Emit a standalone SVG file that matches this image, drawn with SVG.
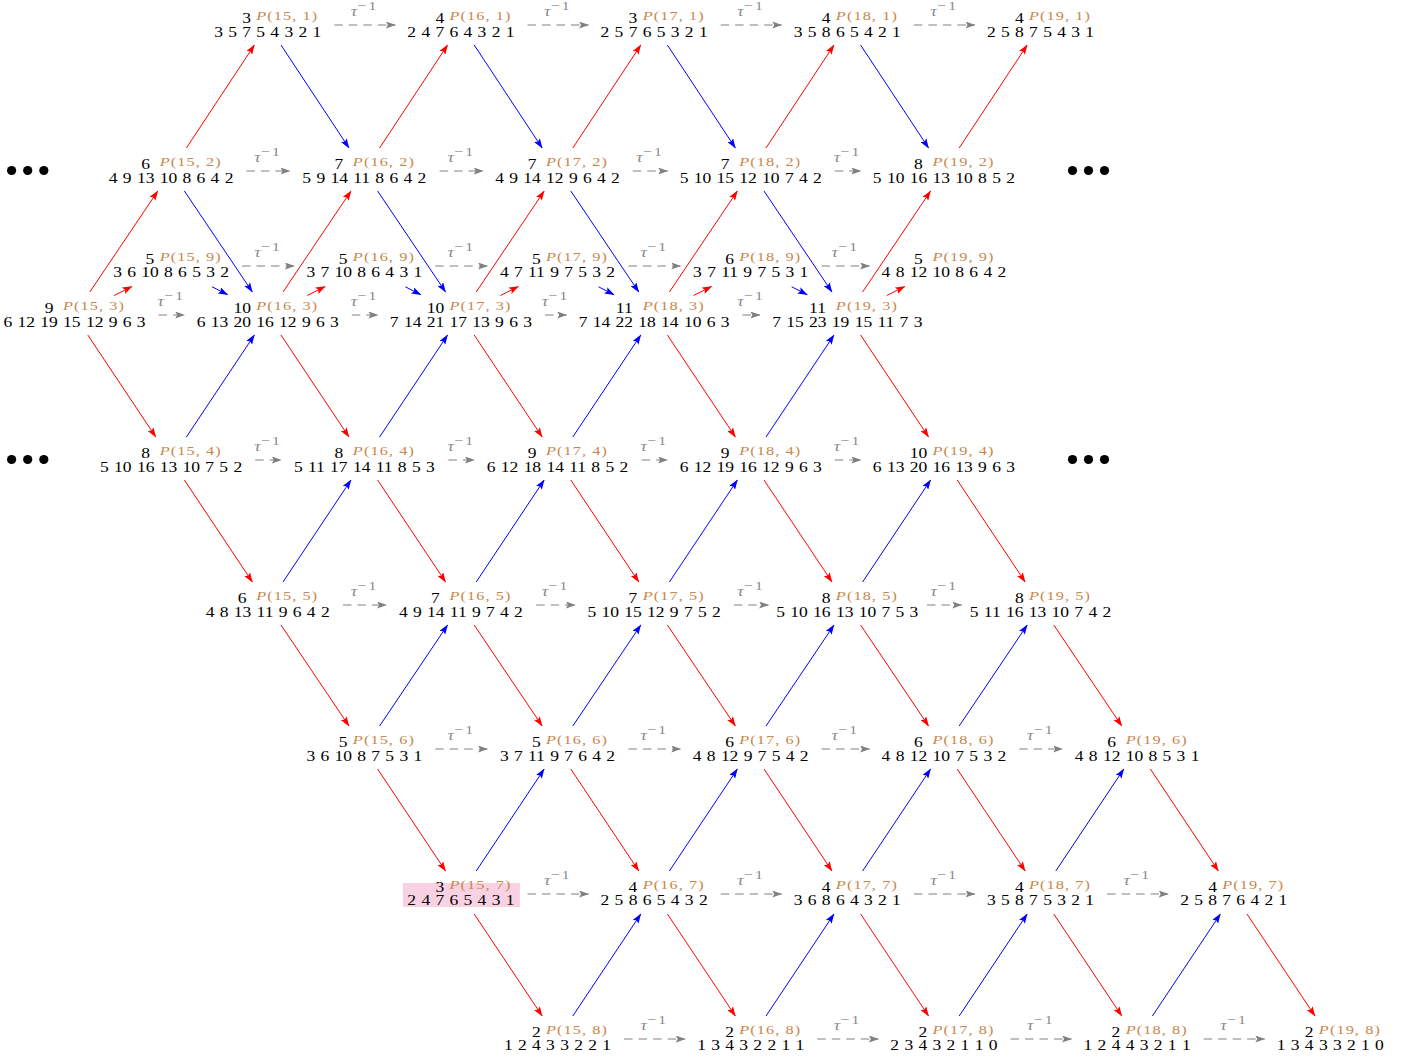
<svg xmlns="http://www.w3.org/2000/svg" width="1416" height="1061" viewBox="0 0 1416 1061">
<style>
text{font-family:"Liberation Serif","Times New Roman",serif}
.n{font-size:14.5px;text-anchor:middle;word-spacing:0.77px;fill:#000}
.p{font-size:13.5px;letter-spacing:0.9px;fill:#c8874c}
.i{font-style:italic}
.tl{font-size:15px;text-anchor:middle;fill:#8a8a8a}
.sup{font-size:13px;letter-spacing:2px}
.r{stroke:#ff0000;stroke-width:1;fill:none;marker-end:url(#hr)}
.b{stroke:#0000ff;stroke-width:1;fill:none;marker-end:url(#hb)}
.g{stroke:#808080;stroke-width:1;fill:none;stroke-dasharray:8.5 6;marker-end:url(#hg)}
.dot{fill:#000}
</style>
<defs>
<marker id="hr" viewBox="0 0 10 7" refX="9.5" refY="3.5" markerWidth="10" markerHeight="7" markerUnits="userSpaceOnUse" orient="auto"><path d="M0,0L10,3.5L0,7L2,3.5z" fill="#ff0000"/></marker>
<marker id="hb" viewBox="0 0 10 7" refX="9.5" refY="3.5" markerWidth="10" markerHeight="7" markerUnits="userSpaceOnUse" orient="auto"><path d="M0,0L10,3.5L0,7L2,3.5z" fill="#0000ff"/></marker>
<marker id="hg" viewBox="0 0 10 7" refX="9.5" refY="3.5" markerWidth="10" markerHeight="7" markerUnits="userSpaceOnUse" orient="auto"><path d="M0,0L10,3.5L0,7L2,3.5z" fill="#808080"/></marker>
</defs>

<g id="dots">
<circle class="dot" cx="11.6" cy="170.5" r="4.6"/><circle class="dot" cx="27.7" cy="170.5" r="4.6"/><circle class="dot" cx="43.8" cy="170.5" r="4.6"/>
<circle class="dot" cx="1072.5" cy="170.5" r="4.6"/><circle class="dot" cx="1088.5" cy="170.5" r="4.6"/><circle class="dot" cx="1104.5" cy="170.5" r="4.6"/>
<circle class="dot" cx="11.6" cy="459.5" r="4.6"/><circle class="dot" cx="27.7" cy="459.5" r="4.6"/><circle class="dot" cx="43.8" cy="459.5" r="4.6"/>
<circle class="dot" cx="1072.5" cy="459.5" r="4.6"/><circle class="dot" cx="1088.5" cy="459.5" r="4.6"/><circle class="dot" cx="1104.5" cy="459.5" r="4.6"/>
</g>

<g id="connectors">
<line class="r" x1="186.4" y1="148" x2="254.4" y2="45"/>
<line class="r" x1="379.6" y1="148" x2="447.6" y2="45"/>
<line class="r" x1="572.8" y1="148" x2="640.8" y2="45"/>
<line class="r" x1="766.0" y1="148" x2="834.0" y2="45"/>
<line class="r" x1="959.2" y1="148" x2="1027.2" y2="45"/>
<line class="r" x1="89.8" y1="292" x2="157.8" y2="191"/>
<line class="r" x1="283.0" y1="292" x2="351.0" y2="191"/>
<line class="r" x1="476.2" y1="292" x2="544.2" y2="191"/>
<line class="r" x1="669.4" y1="292" x2="737.4" y2="191"/>
<line class="r" x1="862.6" y1="292" x2="930.6" y2="191"/>
<line class="r" x1="87.8" y1="335" x2="155.8" y2="437"/>
<line class="r" x1="281.0" y1="335" x2="349.0" y2="437"/>
<line class="r" x1="474.2" y1="335" x2="542.2" y2="437"/>
<line class="r" x1="667.4" y1="335" x2="735.4" y2="437"/>
<line class="r" x1="860.6" y1="335" x2="928.6" y2="437"/>
<line class="r" x1="184.4" y1="480" x2="252.4" y2="582"/>
<line class="r" x1="377.6" y1="480" x2="445.6" y2="582"/>
<line class="r" x1="570.8" y1="480" x2="638.8" y2="582"/>
<line class="r" x1="764.0" y1="480" x2="832.0" y2="582"/>
<line class="r" x1="957.2" y1="480" x2="1025.2" y2="582"/>
<line class="r" x1="281.0" y1="625" x2="349.0" y2="726"/>
<line class="r" x1="474.2" y1="625" x2="542.2" y2="726"/>
<line class="r" x1="667.4" y1="625" x2="735.4" y2="726"/>
<line class="r" x1="860.6" y1="625" x2="928.6" y2="726"/>
<line class="r" x1="1053.8" y1="625" x2="1121.8" y2="726"/>
<line class="r" x1="377.6" y1="769" x2="445.6" y2="871"/>
<line class="r" x1="570.8" y1="769" x2="638.8" y2="871"/>
<line class="r" x1="764.0" y1="769" x2="832.0" y2="871"/>
<line class="r" x1="957.2" y1="769" x2="1025.2" y2="871"/>
<line class="r" x1="1150.4" y1="769" x2="1218.4" y2="871"/>
<line class="r" x1="474.2" y1="914" x2="542.2" y2="1016"/>
<line class="r" x1="667.4" y1="914" x2="735.4" y2="1016"/>
<line class="r" x1="860.6" y1="914" x2="928.6" y2="1016"/>
<line class="r" x1="1053.8" y1="914" x2="1121.8" y2="1016"/>
<line class="r" x1="1247.0" y1="914" x2="1315.0" y2="1016"/>
<line class="r" x1="114.0" y1="295.5" x2="132.0" y2="286.5"/>
<line class="r" x1="307.2" y1="295.5" x2="325.2" y2="286.5"/>
<line class="r" x1="500.4" y1="295.5" x2="518.4" y2="286.5"/>
<line class="r" x1="693.6" y1="295.5" x2="711.6" y2="286.5"/>
<line class="r" x1="886.8" y1="295.5" x2="904.8" y2="286.5"/>

<line class="b" x1="281.0" y1="45" x2="349.0" y2="148"/>
<line class="b" x1="474.2" y1="45" x2="542.2" y2="148"/>
<line class="b" x1="667.4" y1="45" x2="735.4" y2="148"/>
<line class="b" x1="860.6" y1="45" x2="928.6" y2="148"/>
<line class="b" x1="184.4" y1="191" x2="252.4" y2="292"/>
<line class="b" x1="377.6" y1="191" x2="445.6" y2="292"/>
<line class="b" x1="570.8" y1="191" x2="638.8" y2="292"/>
<line class="b" x1="764.0" y1="191" x2="832.0" y2="292"/>
<line class="b" x1="186.4" y1="437" x2="254.4" y2="335"/>
<line class="b" x1="379.6" y1="437" x2="447.6" y2="335"/>
<line class="b" x1="572.8" y1="437" x2="640.8" y2="335"/>
<line class="b" x1="766.0" y1="437" x2="834.0" y2="335"/>
<line class="b" x1="283.0" y1="582" x2="351.0" y2="480"/>
<line class="b" x1="476.2" y1="582" x2="544.2" y2="480"/>
<line class="b" x1="669.4" y1="582" x2="737.4" y2="480"/>
<line class="b" x1="862.6" y1="582" x2="930.6" y2="480"/>
<line class="b" x1="379.6" y1="726" x2="447.6" y2="625"/>
<line class="b" x1="572.8" y1="726" x2="640.8" y2="625"/>
<line class="b" x1="766.0" y1="726" x2="834.0" y2="625"/>
<line class="b" x1="959.2" y1="726" x2="1027.2" y2="625"/>
<line class="b" x1="476.2" y1="871" x2="544.2" y2="769"/>
<line class="b" x1="669.4" y1="871" x2="737.4" y2="769"/>
<line class="b" x1="862.6" y1="871" x2="930.6" y2="769"/>
<line class="b" x1="1055.8" y1="871" x2="1123.8" y2="769"/>
<line class="b" x1="572.8" y1="1016" x2="640.8" y2="914"/>
<line class="b" x1="766.0" y1="1016" x2="834.0" y2="914"/>
<line class="b" x1="959.2" y1="1016" x2="1027.2" y2="914"/>
<line class="b" x1="1152.4" y1="1016" x2="1220.4" y2="914"/>
<line class="b" x1="212.1" y1="286.8" x2="227.7" y2="294.7"/>
<line class="b" x1="405.3" y1="286.8" x2="420.9" y2="294.7"/>
<line class="b" x1="598.5" y1="286.8" x2="614.1" y2="294.7"/>
<line class="b" x1="791.7" y1="286.8" x2="807.3" y2="294.7"/>

<line class="g" x1="334.3" y1="25" x2="395.4" y2="25"/>
<line class="g" x1="527.5" y1="25" x2="588.6" y2="25"/>
<line class="g" x1="720.7" y1="25" x2="781.8" y2="25"/>
<line class="g" x1="913.9" y1="25" x2="975.0" y2="25"/>
<line class="g" x1="246.4" y1="171" x2="290.0" y2="171"/>
<line class="g" x1="439.6" y1="171" x2="483.2" y2="171"/>
<line class="g" x1="632.8" y1="171" x2="667.7" y2="171"/>
<line class="g" x1="834.8" y1="171" x2="860.9" y2="171"/>
<line class="g" x1="242.0" y1="266" x2="294.4" y2="266"/>
<line class="g" x1="435.2" y1="266" x2="487.6" y2="266"/>
<line class="g" x1="628.4" y1="266" x2="680.8" y2="266"/>
<line class="g" x1="821.6" y1="266" x2="869.6" y2="266"/>
<line class="g" x1="158.6" y1="315" x2="184.7" y2="315"/>
<line class="g" x1="351.8" y1="315" x2="377.9" y2="315"/>
<line class="g" x1="545.0" y1="315" x2="566.7" y2="315"/>
<line class="g" x1="742.5" y1="315" x2="759.9" y2="315"/>
<line class="g" x1="255.2" y1="460" x2="281.3" y2="460"/>
<line class="g" x1="448.4" y1="460" x2="474.5" y2="460"/>
<line class="g" x1="641.6" y1="460" x2="667.7" y2="460"/>
<line class="g" x1="834.8" y1="460" x2="860.9" y2="460"/>
<line class="g" x1="343.0" y1="605" x2="386.6" y2="605"/>
<line class="g" x1="536.2" y1="605" x2="575.4" y2="605"/>
<line class="g" x1="733.8" y1="605" x2="768.6" y2="605"/>
<line class="g" x1="927.0" y1="605" x2="961.8" y2="605"/>
<line class="g" x1="435.2" y1="749" x2="487.6" y2="749"/>
<line class="g" x1="628.4" y1="749" x2="680.8" y2="749"/>
<line class="g" x1="821.6" y1="749" x2="869.6" y2="749"/>
<line class="g" x1="1019.2" y1="749" x2="1062.8" y2="749"/>
<line class="g" x1="527.5" y1="894" x2="588.6" y2="894"/>
<line class="g" x1="720.7" y1="894" x2="781.8" y2="894"/>
<line class="g" x1="913.9" y1="894" x2="975.0" y2="894"/>
<line class="g" x1="1107.1" y1="894" x2="1168.2" y2="894"/>
<line class="g" x1="624.1" y1="1039" x2="685.2" y2="1039"/>
<line class="g" x1="817.3" y1="1039" x2="878.4" y2="1039"/>
<line class="g" x1="1010.5" y1="1039" x2="1071.6" y2="1039"/>
<line class="g" x1="1203.7" y1="1039" x2="1264.8" y2="1039"/>

<g id="tau-labels">
<text class="tl" transform="translate(364.8,16) scale(1.207,1)"><tspan class="i">τ</tspan><tspan class="sup" dy="-6">−1</tspan></text>
<text class="tl" transform="translate(558.0,16) scale(1.207,1)"><tspan class="i">τ</tspan><tspan class="sup" dy="-6">−1</tspan></text>
<text class="tl" transform="translate(751.2,16) scale(1.207,1)"><tspan class="i">τ</tspan><tspan class="sup" dy="-6">−1</tspan></text>
<text class="tl" transform="translate(944.4,16) scale(1.207,1)"><tspan class="i">τ</tspan><tspan class="sup" dy="-6">−1</tspan></text>
<text class="tl" transform="translate(268.2,162) scale(1.207,1)"><tspan class="i">τ</tspan><tspan class="sup" dy="-6">−1</tspan></text>
<text class="tl" transform="translate(461.4,162) scale(1.207,1)"><tspan class="i">τ</tspan><tspan class="sup" dy="-6">−1</tspan></text>
<text class="tl" transform="translate(650.2,162) scale(1.207,1)"><tspan class="i">τ</tspan><tspan class="sup" dy="-6">−1</tspan></text>
<text class="tl" transform="translate(847.8,162) scale(1.207,1)"><tspan class="i">τ</tspan><tspan class="sup" dy="-6">−1</tspan></text>
<text class="tl" transform="translate(268.2,257) scale(1.207,1)"><tspan class="i">τ</tspan><tspan class="sup" dy="-6">−1</tspan></text>
<text class="tl" transform="translate(461.4,257) scale(1.207,1)"><tspan class="i">τ</tspan><tspan class="sup" dy="-6">−1</tspan></text>
<text class="tl" transform="translate(654.6,257) scale(1.207,1)"><tspan class="i">τ</tspan><tspan class="sup" dy="-6">−1</tspan></text>
<text class="tl" transform="translate(845.6,257) scale(1.207,1)"><tspan class="i">τ</tspan><tspan class="sup" dy="-6">−1</tspan></text>
<text class="tl" transform="translate(171.6,306) scale(1.207,1)"><tspan class="i">τ</tspan><tspan class="sup" dy="-6">−1</tspan></text>
<text class="tl" transform="translate(364.8,306) scale(1.207,1)"><tspan class="i">τ</tspan><tspan class="sup" dy="-6">−1</tspan></text>
<text class="tl" transform="translate(555.8,306) scale(1.207,1)"><tspan class="i">τ</tspan><tspan class="sup" dy="-6">−1</tspan></text>
<text class="tl" transform="translate(751.2,306) scale(1.207,1)"><tspan class="i">τ</tspan><tspan class="sup" dy="-6">−1</tspan></text>
<text class="tl" transform="translate(268.2,451) scale(1.207,1)"><tspan class="i">τ</tspan><tspan class="sup" dy="-6">−1</tspan></text>
<text class="tl" transform="translate(461.4,451) scale(1.207,1)"><tspan class="i">τ</tspan><tspan class="sup" dy="-6">−1</tspan></text>
<text class="tl" transform="translate(654.6,451) scale(1.207,1)"><tspan class="i">τ</tspan><tspan class="sup" dy="-6">−1</tspan></text>
<text class="tl" transform="translate(847.8,451) scale(1.207,1)"><tspan class="i">τ</tspan><tspan class="sup" dy="-6">−1</tspan></text>
<text class="tl" transform="translate(364.8,596) scale(1.207,1)"><tspan class="i">τ</tspan><tspan class="sup" dy="-6">−1</tspan></text>
<text class="tl" transform="translate(555.8,596) scale(1.207,1)"><tspan class="i">τ</tspan><tspan class="sup" dy="-6">−1</tspan></text>
<text class="tl" transform="translate(751.2,596) scale(1.207,1)"><tspan class="i">τ</tspan><tspan class="sup" dy="-6">−1</tspan></text>
<text class="tl" transform="translate(944.4,596) scale(1.207,1)"><tspan class="i">τ</tspan><tspan class="sup" dy="-6">−1</tspan></text>
<text class="tl" transform="translate(461.4,740) scale(1.207,1)"><tspan class="i">τ</tspan><tspan class="sup" dy="-6">−1</tspan></text>
<text class="tl" transform="translate(654.6,740) scale(1.207,1)"><tspan class="i">τ</tspan><tspan class="sup" dy="-6">−1</tspan></text>
<text class="tl" transform="translate(845.6,740) scale(1.207,1)"><tspan class="i">τ</tspan><tspan class="sup" dy="-6">−1</tspan></text>
<text class="tl" transform="translate(1041.0,740) scale(1.207,1)"><tspan class="i">τ</tspan><tspan class="sup" dy="-6">−1</tspan></text>
<text class="tl" transform="translate(558.0,885) scale(1.207,1)"><tspan class="i">τ</tspan><tspan class="sup" dy="-6">−1</tspan></text>
<text class="tl" transform="translate(751.2,885) scale(1.207,1)"><tspan class="i">τ</tspan><tspan class="sup" dy="-6">−1</tspan></text>
<text class="tl" transform="translate(944.4,885) scale(1.207,1)"><tspan class="i">τ</tspan><tspan class="sup" dy="-6">−1</tspan></text>
<text class="tl" transform="translate(1137.6,885) scale(1.207,1)"><tspan class="i">τ</tspan><tspan class="sup" dy="-6">−1</tspan></text>
<text class="tl" transform="translate(654.6,1030) scale(1.207,1)"><tspan class="i">τ</tspan><tspan class="sup" dy="-6">−1</tspan></text>
<text class="tl" transform="translate(847.8,1030) scale(1.207,1)"><tspan class="i">τ</tspan><tspan class="sup" dy="-6">−1</tspan></text>
<text class="tl" transform="translate(1041.0,1030) scale(1.207,1)"><tspan class="i">τ</tspan><tspan class="sup" dy="-6">−1</tspan></text>
<text class="tl" transform="translate(1234.2,1030) scale(1.207,1)"><tspan class="i">τ</tspan><tspan class="sup" dy="-6">−1</tspan></text>
</g>
</g>

<g id="nodes">
<!-- row 1 -->
<g id="P15-1" transform="translate(267.7,25) scale(1.207,1)"><text class="n" x="-17.5" y="-2">3</text><text class="p" x="-9.5" y="-5"><tspan class="i">P</tspan>(15, 1)</text><text class="n" y="12">3 5 7 5 4 3 2 1</text></g>
<g id="P16-1" transform="translate(460.9,25) scale(1.207,1)"><text class="n" x="-17.5" y="-2">4</text><text class="p" x="-9.5" y="-5"><tspan class="i">P</tspan>(16, 1)</text><text class="n" y="12">2 4 7 6 4 3 2 1</text></g>
<g id="P17-1" transform="translate(654.1,25) scale(1.207,1)"><text class="n" x="-17.5" y="-2">3</text><text class="p" x="-9.5" y="-5"><tspan class="i">P</tspan>(17, 1)</text><text class="n" y="12">2 5 7 6 5 3 2 1</text></g>
<g id="P18-1" transform="translate(847.3,25) scale(1.207,1)"><text class="n" x="-17.5" y="-2">4</text><text class="p" x="-9.5" y="-5"><tspan class="i">P</tspan>(18, 1)</text><text class="n" y="12">3 5 8 6 5 4 2 1</text></g>
<g id="P19-1" transform="translate(1040.5,25) scale(1.207,1)"><text class="n" x="-17.5" y="-2">4</text><text class="p" x="-9.5" y="-5"><tspan class="i">P</tspan>(19, 1)</text><text class="n" y="12">2 5 8 7 5 4 3 1</text></g>
<!-- row 2 -->
<g id="P15-2" transform="translate(171.1,171) scale(1.207,1)"><text class="n" x="-21.1" y="-2">6</text><text class="p" x="-9.5" y="-5"><tspan class="i">P</tspan>(15, 2)</text><text class="n" y="12">4 9 13 10 8 6 4 2</text></g>
<g id="P16-2" transform="translate(364.3,171) scale(1.207,1)"><text class="n" x="-21.1" y="-2">7</text><text class="p" x="-9.5" y="-5"><tspan class="i">P</tspan>(16, 2)</text><text class="n" y="12">5 9 14 11 8 6 4 2</text></g>
<g id="P17-2" transform="translate(557.5,171) scale(1.207,1)"><text class="n" x="-21.1" y="-2">7</text><text class="p" x="-9.5" y="-5"><tspan class="i">P</tspan>(17, 2)</text><text class="n" y="12">4 9 14 12 9 6 4 2</text></g>
<g id="P18-2" transform="translate(750.7,171) scale(1.207,1)"><text class="n" x="-21.1" y="-2">7</text><text class="p" x="-9.5" y="-5"><tspan class="i">P</tspan>(18, 2)</text><text class="n" y="12">5 10 15 12 10 7 4 2</text></g>
<g id="P19-2" transform="translate(943.9,171) scale(1.207,1)"><text class="n" x="-21.1" y="-2">8</text><text class="p" x="-9.5" y="-5"><tspan class="i">P</tspan>(19, 2)</text><text class="n" y="12">5 10 16 13 10 8 5 2</text></g>
<!-- row 9 -->
<g id="P15-9" transform="translate(171.1,266) scale(1.207,1)"><text class="n" x="-17.5" y="-2">5</text><text class="p" x="-9.5" y="-5"><tspan class="i">P</tspan>(15, 9)</text><text class="n" y="11">3 6 10 8 6 5 3 2</text></g>
<g id="P16-9" transform="translate(364.3,266) scale(1.207,1)"><text class="n" x="-17.5" y="-2">5</text><text class="p" x="-9.5" y="-5"><tspan class="i">P</tspan>(16, 9)</text><text class="n" y="11">3 7 10 8 6 4 3 1</text></g>
<g id="P17-9" transform="translate(557.5,266) scale(1.207,1)"><text class="n" x="-17.5" y="-2">5</text><text class="p" x="-9.5" y="-5"><tspan class="i">P</tspan>(17, 9)</text><text class="n" y="11">4 7 11 9 7 5 3 2</text></g>
<g id="P18-9" transform="translate(750.7,266) scale(1.207,1)"><text class="n" x="-17.5" y="-2">6</text><text class="p" x="-9.5" y="-5"><tspan class="i">P</tspan>(18, 9)</text><text class="n" y="11">3 7 11 9 7 5 3 1</text></g>
<g id="P19-9" transform="translate(943.9,266) scale(1.207,1)"><text class="n" x="-21.1" y="-2">5</text><text class="p" x="-9.5" y="-5"><tspan class="i">P</tspan>(19, 9)</text><text class="n" y="11">4 8 12 10 8 6 4 2</text></g>
<!-- row 3 -->
<g id="P15-3" transform="translate(74.5,315) scale(1.207,1)"><text class="n" x="-21.1" y="-2">9</text><text class="p" x="-9.5" y="-5"><tspan class="i">P</tspan>(15, 3)</text><text class="n" y="12">6 12 19 15 12 9 6 3</text></g>
<g id="P16-3" transform="translate(267.7,315) scale(1.207,1)"><text class="n" x="-21.1" y="-2">10</text><text class="p" x="-9.5" y="-5"><tspan class="i">P</tspan>(16, 3)</text><text class="n" y="12">6 13 20 16 12 9 6 3</text></g>
<g id="P17-3" transform="translate(460.9,315) scale(1.207,1)"><text class="n" x="-21.1" y="-2">10</text><text class="p" x="-9.5" y="-5"><tspan class="i">P</tspan>(17, 3)</text><text class="n" y="12">7 14 21 17 13 9 6 3</text></g>
<g id="P18-3" transform="translate(654.1,315) scale(1.207,1)"><text class="n" x="-24.7" y="-2">11</text><text class="p" x="-9.5" y="-5"><tspan class="i">P</tspan>(18, 3)</text><text class="n" y="12">7 14 22 18 14 10 6 3</text></g>
<g id="P19-3" transform="translate(847.3,315) scale(1.207,1)"><text class="n" x="-24.7" y="-2">11</text><text class="p" x="-9.5" y="-5"><tspan class="i">P</tspan>(19, 3)</text><text class="n" y="12">7 15 23 19 15 11 7 3</text></g>
<!-- row 4 -->
<g id="P15-4" transform="translate(171.1,460) scale(1.207,1)"><text class="n" x="-21.1" y="-2">8</text><text class="p" x="-9.5" y="-5"><tspan class="i">P</tspan>(15, 4)</text><text class="n" y="12">5 10 16 13 10 7 5 2</text></g>
<g id="P16-4" transform="translate(364.3,460) scale(1.207,1)"><text class="n" x="-21.1" y="-2">8</text><text class="p" x="-9.5" y="-5"><tspan class="i">P</tspan>(16, 4)</text><text class="n" y="12">5 11 17 14 11 8 5 3</text></g>
<g id="P17-4" transform="translate(557.5,460) scale(1.207,1)"><text class="n" x="-21.1" y="-2">9</text><text class="p" x="-9.5" y="-5"><tspan class="i">P</tspan>(17, 4)</text><text class="n" y="12">6 12 18 14 11 8 5 2</text></g>
<g id="P18-4" transform="translate(750.7,460) scale(1.207,1)"><text class="n" x="-21.1" y="-2">9</text><text class="p" x="-9.5" y="-5"><tspan class="i">P</tspan>(18, 4)</text><text class="n" y="12">6 12 19 16 12 9 6 3</text></g>
<g id="P19-4" transform="translate(943.9,460) scale(1.207,1)"><text class="n" x="-21.1" y="-2">10</text><text class="p" x="-9.5" y="-5"><tspan class="i">P</tspan>(19, 4)</text><text class="n" y="12">6 13 20 16 13 9 6 3</text></g>
<!-- row 5 -->
<g id="P15-5" transform="translate(267.7,605) scale(1.207,1)"><text class="n" x="-21.1" y="-2">6</text><text class="p" x="-9.5" y="-5"><tspan class="i">P</tspan>(15, 5)</text><text class="n" y="12">4 8 13 11 9 6 4 2</text></g>
<g id="P16-5" transform="translate(460.9,605) scale(1.207,1)"><text class="n" x="-21.1" y="-2">7</text><text class="p" x="-9.5" y="-5"><tspan class="i">P</tspan>(16, 5)</text><text class="n" y="12">4 9 14 11 9 7 4 2</text></g>
<g id="P17-5" transform="translate(654.1,605) scale(1.207,1)"><text class="n" x="-17.5" y="-2">7</text><text class="p" x="-9.5" y="-5"><tspan class="i">P</tspan>(17, 5)</text><text class="n" y="12">5 10 15 12 9 7 5 2</text></g>
<g id="P18-5" transform="translate(847.3,605) scale(1.207,1)"><text class="n" x="-17.5" y="-2">8</text><text class="p" x="-9.5" y="-5"><tspan class="i">P</tspan>(18, 5)</text><text class="n" y="12">5 10 16 13 10 7 5 3</text></g>
<g id="P19-5" transform="translate(1040.5,605) scale(1.207,1)"><text class="n" x="-17.5" y="-2">8</text><text class="p" x="-9.5" y="-5"><tspan class="i">P</tspan>(19, 5)</text><text class="n" y="12">5 11 16 13 10 7 4 2</text></g>
<!-- row 6 -->
<g id="P15-6" transform="translate(364.3,749) scale(1.207,1)"><text class="n" x="-17.5" y="-2">5</text><text class="p" x="-9.5" y="-5"><tspan class="i">P</tspan>(15, 6)</text><text class="n" y="12">3 6 10 8 7 5 3 1</text></g>
<g id="P16-6" transform="translate(557.5,749) scale(1.207,1)"><text class="n" x="-17.5" y="-2">5</text><text class="p" x="-9.5" y="-5"><tspan class="i">P</tspan>(16, 6)</text><text class="n" y="12">3 7 11 9 7 6 4 2</text></g>
<g id="P17-6" transform="translate(750.7,749) scale(1.207,1)"><text class="n" x="-17.5" y="-2">6</text><text class="p" x="-9.5" y="-5"><tspan class="i">P</tspan>(17, 6)</text><text class="n" y="12">4 8 12 9 7 5 4 2</text></g>
<g id="P18-6" transform="translate(943.9,749) scale(1.207,1)"><text class="n" x="-21.1" y="-2">6</text><text class="p" x="-9.5" y="-5"><tspan class="i">P</tspan>(18, 6)</text><text class="n" y="12">4 8 12 10 7 5 3 2</text></g>
<g id="P19-6" transform="translate(1137.1,749) scale(1.207,1)"><text class="n" x="-21.1" y="-2">6</text><text class="p" x="-9.5" y="-5"><tspan class="i">P</tspan>(19, 6)</text><text class="n" y="12">4 8 12 10 8 5 3 1</text></g>
<!-- row 7 -->
<g id="P15-7" transform="translate(460.9,894) scale(1.207,1)"><rect x="-48.05" y="-11" width="96.9" height="24" fill="#f8d2e2"/><text class="n" x="-17.5" y="-2">3</text><text class="p" x="-9.5" y="-5"><tspan class="i">P</tspan>(15, 7)</text><text class="n" y="11">2 4 7 6 5 4 3 1</text></g>
<g id="P16-7" transform="translate(654.1,894) scale(1.207,1)"><text class="n" x="-17.5" y="-2">4</text><text class="p" x="-9.5" y="-5"><tspan class="i">P</tspan>(16, 7)</text><text class="n" y="11">2 5 8 6 5 4 3 2</text></g>
<g id="P17-7" transform="translate(847.3,894) scale(1.207,1)"><text class="n" x="-17.5" y="-2">4</text><text class="p" x="-9.5" y="-5"><tspan class="i">P</tspan>(17, 7)</text><text class="n" y="11">3 6 8 6 4 3 2 1</text></g>
<g id="P18-7" transform="translate(1040.5,894) scale(1.207,1)"><text class="n" x="-17.5" y="-2">4</text><text class="p" x="-9.5" y="-5"><tspan class="i">P</tspan>(18, 7)</text><text class="n" y="11">3 5 8 7 5 3 2 1</text></g>
<g id="P19-7" transform="translate(1233.7,894) scale(1.207,1)"><text class="n" x="-17.5" y="-2">4</text><text class="p" x="-9.5" y="-5"><tspan class="i">P</tspan>(19, 7)</text><text class="n" y="11">2 5 8 7 6 4 2 1</text></g>
<!-- row 8 -->
<g id="P15-8" transform="translate(557.5,1039) scale(1.207,1)"><text class="n" x="-17.5" y="-2">2</text><text class="p" x="-9.5" y="-5"><tspan class="i">P</tspan>(15, 8)</text><text class="n" y="11">1 2 4 3 3 2 2 1</text></g>
<g id="P16-8" transform="translate(750.7,1039) scale(1.207,1)"><text class="n" x="-17.5" y="-2">2</text><text class="p" x="-9.5" y="-5"><tspan class="i">P</tspan>(16, 8)</text><text class="n" y="11">1 3 4 3 2 2 1 1</text></g>
<g id="P17-8" transform="translate(943.9,1039) scale(1.207,1)"><text class="n" x="-17.5" y="-2">2</text><text class="p" x="-9.5" y="-5"><tspan class="i">P</tspan>(17, 8)</text><text class="n" y="11">2 3 4 3 2 1 1 0</text></g>
<g id="P18-8" transform="translate(1137.1,1039) scale(1.207,1)"><text class="n" x="-17.5" y="-2">2</text><text class="p" x="-9.5" y="-5"><tspan class="i">P</tspan>(18, 8)</text><text class="n" y="11">1 2 4 4 3 2 1 1</text></g>
<g id="P19-8" transform="translate(1330.3,1039) scale(1.207,1)"><text class="n" x="-17.5" y="-2">2</text><text class="p" x="-9.5" y="-5"><tspan class="i">P</tspan>(19, 8)</text><text class="n" y="11">1 3 4 3 3 2 1 0</text></g>
</g>
</svg>
